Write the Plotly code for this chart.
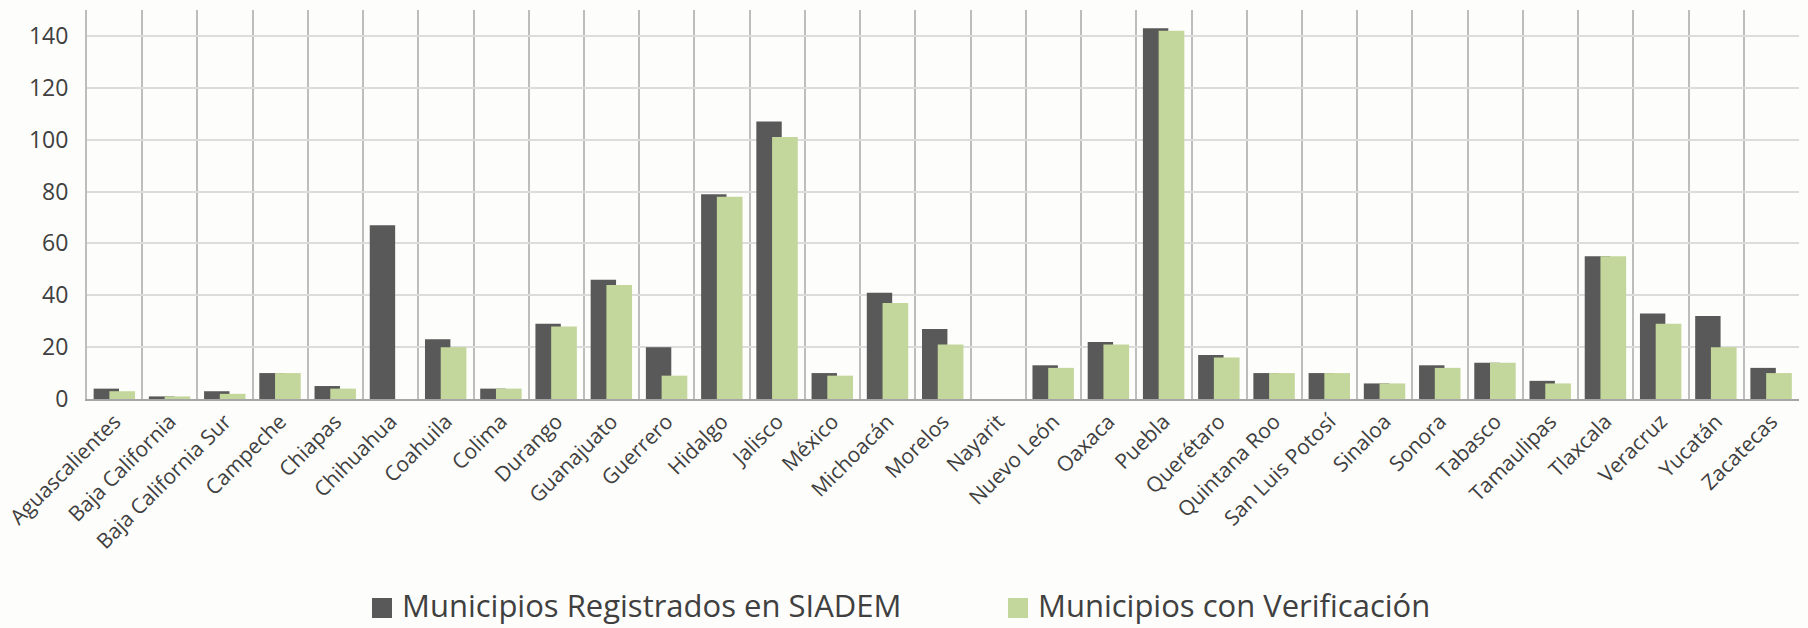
import plotly.graph_objects as go

estados = ["Aguascalientes", "Baja California", "Baja California Sur", "Campeche", "Chiapas",
           "Chihuahua", "Coahuila", "Colima", "Durango", "Guanajuato", "Guerrero", "Hidalgo",
           "Jalisco", "México", "Michoacán", "Morelos", "Nayarit", "Nuevo León", "Oaxaca",
           "Puebla", "Querétaro", "Quintana Roo", "San Luis Potosí", "Sinaloa", "Sonora",
           "Tabasco", "Tamaulipas", "Tlaxcala", "Veracruz", "Yucatán", "Zacatecas"]
registrados = [4, 1, 3, 10, 5, 67, 23, 4, 29, 46, 20, 79, 107, 10, 41, 27, 0, 13, 22,
               143, 17, 10, 10, 6, 13, 14, 7, 55, 33, 32, 12]
verificacion = [3, 1, 2, 10, 4, 0, 20, 4, 28, 44, 9, 78, 101, 9, 37, 21, 0, 12, 21,
                142, 16, 10, 10, 6, 12, 14, 6, 55, 29, 20, 10]
y_ticks = [0, 20, 40, 60, 80, 100, 120, 140]
series_names = ["Municipios Registrados en SIADEM", "Municipios con Verificación"]
series_colors = ["#595959", "#C3D69B"]

FONT = "Open Sans"
TXT = "#404040"
W, H = 1808, 628
ML, MT = 87, 10
PLOT_BOTTOM, PLOT_RIGHT = 399, 1799
MB, MR = H - PLOT_BOTTOM, W - PLOT_RIGHT
PW, PH = W - ML - MR, H - MT - MB


def px_x(px):
    return (px - ML) / PW


def px_y(py):
    return (PLOT_BOTTOM - py) / PH


fig = go.Figure()
fig.add_trace(go.Bar(
    x=estados, y=registrados, name=series_names[0],
    marker=dict(color=series_colors[0], line=dict(width=0)),
    offset=-0.38, width=0.46, showlegend=False,
))
fig.add_trace(go.Bar(
    x=estados, y=verificacion, name=series_names[1],
    marker=dict(color=series_colors[1], line=dict(width=0)),
    offset=-0.095, width=0.465, showlegend=False,
))

# legend drawn as squares + text (page pixel positions)
legend_sq_x = [372, 1008]
legend_txt_x = [400, 1036]
for i in range(2):
    fig.add_shape(type="rect", xref="paper", yref="paper",
                  x0=px_x(legend_sq_x[i]), x1=px_x(legend_sq_x[i] + 20),
                  y0=px_y(618), y1=px_y(598),
                  fillcolor=series_colors[i], line=dict(width=0))
    fig.add_annotation(text=series_names[i], xref="paper", yref="paper",
                       x=px_x(legend_txt_x[i]), y=px_y(605),
                       xanchor="left", yanchor="middle", showarrow=False,
                       font=dict(size=31, color=TXT, family=FONT))

fig.update_layout(
    width=W, height=H,
    barmode="overlay",
    paper_bgcolor="#FDFDFB", plot_bgcolor="#FDFDFB",
    margin=dict(l=ML, r=MR, t=MT, b=MB, autoexpand=False),
    font=dict(family=FONT, color=TXT),
    xaxis=dict(
        type="category", tickson="boundaries", showgrid=True,
        gridcolor="#BDBDBD", gridwidth=2,
        ticks="", tickangle=-45, tickfont=dict(size=21, color=TXT),
        showline=True, linecolor="#A6A6A6", linewidth=2, mirror=False,
        range=[-0.5, len(estados) - 0.5], automargin=False,
    ),
    yaxis=dict(
        range=[0, 150], tickvals=y_ticks, showgrid=True,
        gridcolor="#DCDCDC", gridwidth=2, zeroline=False,
        tickfont=dict(size=23, color=TXT), ticks="", ticklen=0,
        ticklabelstandoff=12, automargin=False,
        showline=True, linecolor="#BDBDBD", linewidth=2,
    ),
    showlegend=False,
)

fig.write_html("out.html", config={"displayModeBar": False},
               post_script="document.body.style.margin='0';")
